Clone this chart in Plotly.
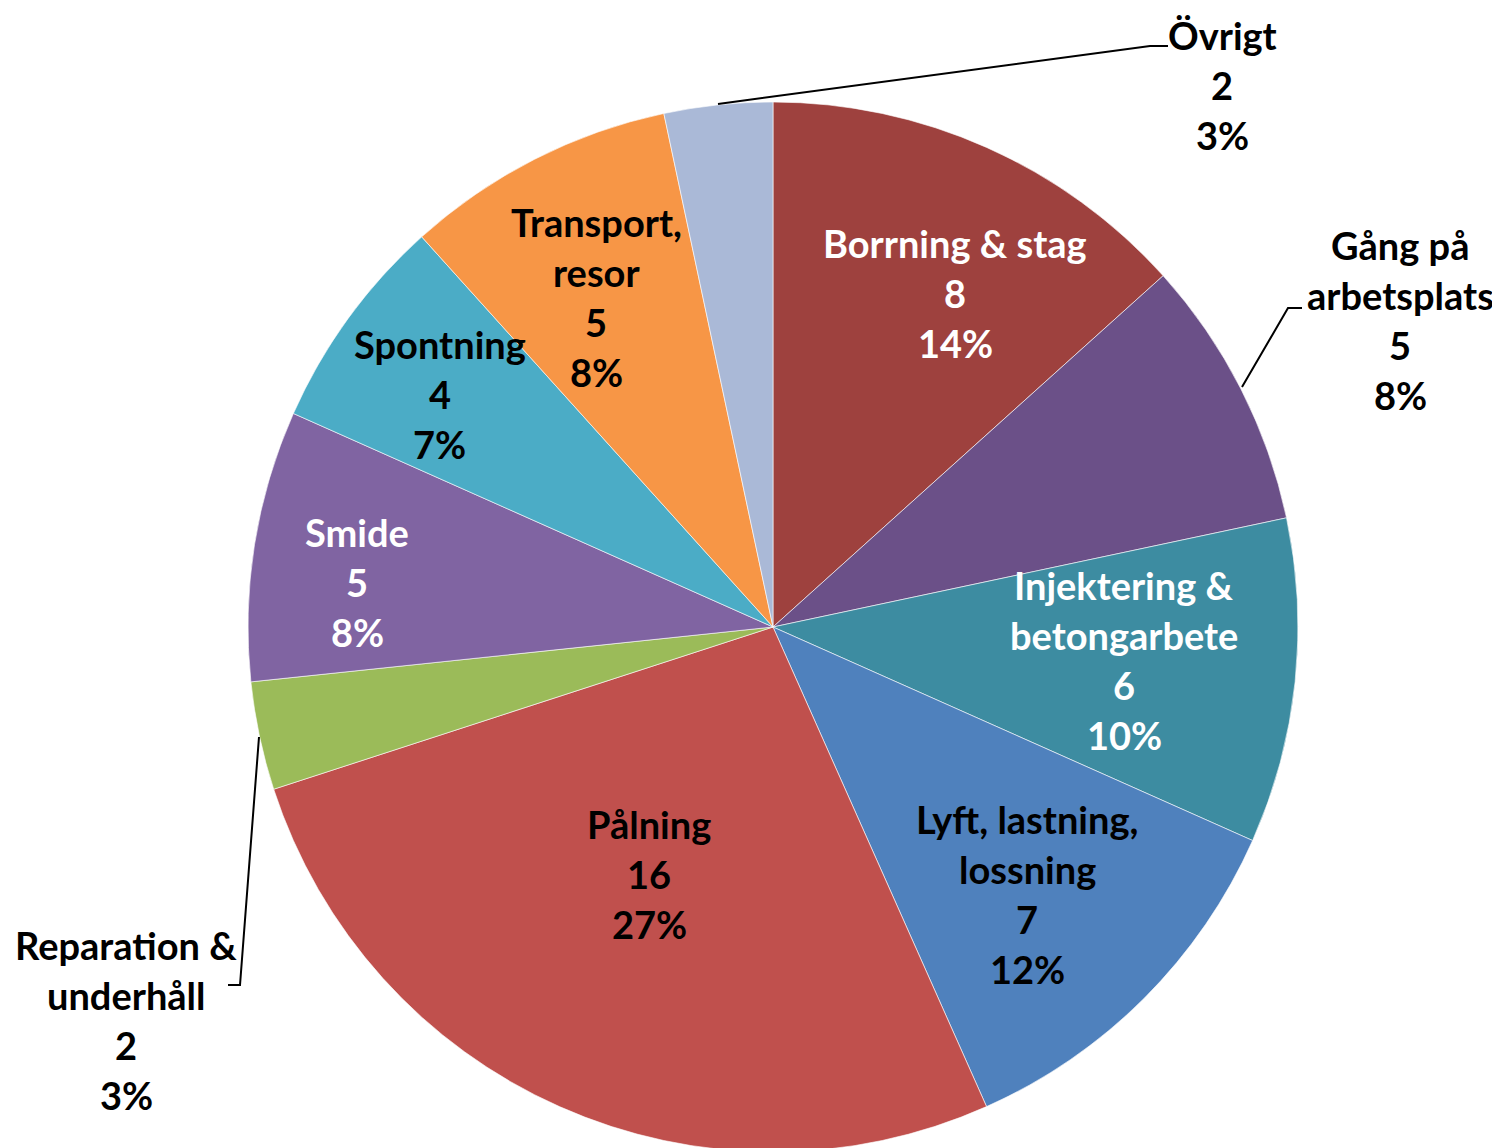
import plotly.graph_objects as go

W, H = 1500, 1148
OFF = 8  # page body margin in the browser
FONT = "Lato"
FS = 38
LINE_GAP = 50  # px between label lines

# Data (clockwise from 12 o'clock)
categories = [
    "Borrning & stag",
    "Gång på arbetsplats",
    "Injektering & betongarbete",
    "Lyft, lastning, lossning",
    "Pålning",
    "Reparation & underhåll",
    "Smide",
    "Spontning",
    "Transport, resor",
    "Övrigt",
]
values = [8, 5, 6, 7, 16, 2, 5, 4, 5, 2]
pct_labels = ["14%", "8%", "10%", "12%", "27%", "3%", "8%", "7%", "8%", "3%"]
# category names as wrapped in the chart's data labels
label_lines = [
    ["Borrning & stag"],
    ["Gång på", "arbetsplats"],
    ["Injektering &", "betongarbete"],
    ["Lyft, lastning,", "lossning"],
    ["Pålning"],
    ["Reparation &", "underhåll"],
    ["Smide"],
    ["Spontning"],
    ["Transport,", "resor"],
    ["Övrigt"],
]

colors = [
    "#9E413E", "#6B5088", "#3D8CA1", "#4F81BD", "#C0504D",
    "#9BBB59", "#8064A2", "#4BACC6", "#F79646", "#AAB9D7",
]
text_colors = [
    "white", "black", "white", "black", "black",
    "black", "white", "black", "black", "black",
]

# label block centres in page pixels (layout only)
label_pos = [
    (955, 293), (1400, 320), (1124, 660), (1027, 894), (649, 874),
    (126, 1020), (357, 582), (440, 394), (596, 297), (1222, 85),
]

# leader lines for outside labels, page pixel paths
leaders = [
    [(718, 104), (1150, 46), (1168, 46)],
    [(1242, 387), (1288, 308), (1302, 308)],
    [(259, 737), (240, 985), (228, 985)],
]


def px(x):
    return (x - OFF) / W


def py(y):
    return 1 - (y - OFF) / H


fig = go.Figure(
    go.Pie(
        labels=categories,
        values=values,
        sort=False,
        direction="clockwise",
        rotation=0,
        textinfo="none",
        marker=dict(colors=colors, line=dict(color="rgba(255,255,255,0.6)", width=1)),
        domain=dict(x=[px(248), px(1298)], y=[py(1152), py(102)]),
        showlegend=False,
        hovertemplate="%{label}: %{value} (%{percent})<extra></extra>",
    )
)

# data labels: name lines, value, percent
for lines, v, pct, col, (cx, cy) in zip(label_lines, values, pct_labels, text_colors, label_pos):
    all_lines = lines + [str(v), pct]
    n = len(all_lines)
    for i, t in enumerate(all_lines):
        fig.add_annotation(
            x=px(cx),
            y=py(cy),
            xref="paper",
            yref="paper",
            text=f"<b>{t}</b>",
            showarrow=False,
            xanchor="center",
            yanchor="middle",
            yshift=-(i - (n - 1) / 2) * LINE_GAP,
            font=dict(family=FONT, size=FS, color=col),
        )

for path in leaders:
    d = "M " + " L ".join(f"{px(x)},{py(y)}" for x, y in path)
    fig.add_shape(
        type="path",
        path=d,
        xref="paper",
        yref="paper",
        line=dict(color="black", width=2),
    )

fig.update_layout(
    width=W,
    height=H,
    margin=dict(l=0, r=0, t=0, b=0),
    paper_bgcolor="white",
    plot_bgcolor="white",
)

fig.write_html("out.html")
